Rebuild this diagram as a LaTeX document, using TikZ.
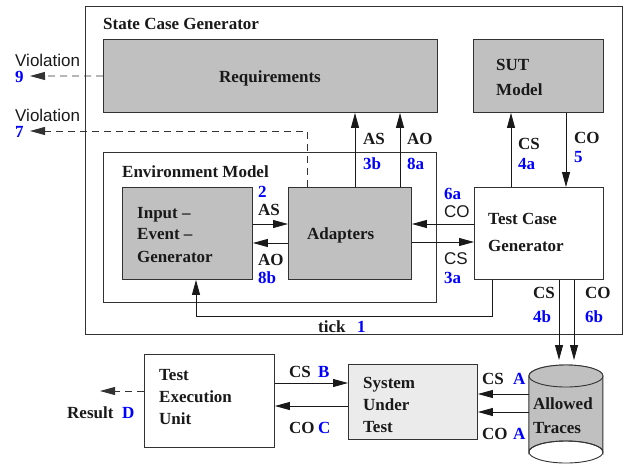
\documentclass[tikz,border=0pt]{standalone}
\usepackage{fontspec}
\setmainfont{Liberation Serif}
\newfontfamily\sansf{Liberation Sans}
\usetikzlibrary{arrows.meta}
\definecolor{boxgray}{RGB}{192,192,192}
\definecolor{lightbox}{RGB}{235,235,235}
\definecolor{edgec}{RGB}{50,50,50}
\definecolor{numblue}{RGB}{0,0,255}
\begin{document}
\begin{tikzpicture}[x=1pt,y=-1pt,
  box/.style={draw=edgec, line width=0.9pt, inner sep=0pt, anchor=north west},
  gbox/.style={box, fill=boxgray},
  lbl/.style={font=\bfseries\fontsize{17}{20}\selectfont, anchor=base west, inner sep=0pt, text=black!90},
  num/.style={lbl, text=numblue},
  slbl/.style={font=\sansf\fontsize{17}{20}\selectfont, anchor=base west, inner sep=0pt, text=black!90},
  arr/.style={draw=black!90, line width=0.9pt, -{Triangle[length=15pt,width=8pt]}},
  cylpart/.style={draw=edgec, line width=0.9pt, fill=boxgray},
  dline/.style={draw=black!80, line width=0.9pt, dash pattern=on 7pt off 5pt, -{Triangle[length=15pt,width=8pt]}}
]
\useasboundingbox (0,0) rectangle (628,463);

% boxes
\node[box, minimum width=537pt, minimum height=328pt] (scg) at (85,6) {};
\node[gbox, minimum width=334pt, minimum height=73pt] (req) at (103,39) {};
\node[gbox, minimum width=130pt, minimum height=73pt] (sutm) at (473,39) {};
\node[box, minimum width=333pt, minimum height=150pt] (env) at (103,152) {};
\node[gbox, minimum width=130pt, minimum height=92pt] (ieg) at (122,187) {};
\node[gbox, minimum width=123pt, minimum height=92pt] (adp) at (288,187) {};
\node[box, fill=white, minimum width=129pt, minimum height=92pt] (tcg) at (474,187) {};
\node[box, fill=lightbox, minimum width=129pt, minimum height=75pt] (sut) at (348,364) {};
\node[box, minimum width=130pt, minimum height=93pt] (teu) at (144,354) {};

% cylinder (Allowed Traces)
\node[inner sep=0pt, minimum width=74pt, minimum height=98pt, anchor=north] (cyl) at (566,364) {};
\path[cylpart] (cyl.north west) ++(0,12) coordinate (cylTL) -- ++(0,76)
  arc[start angle=180, end angle=0, x radius=37pt, y radius=11pt] -- ++(0,-76)
  arc[start angle=0, end angle=180, x radius=37pt, y radius=11pt] -- cycle;
\draw[draw=edgec, line width=0.9pt] ([yshift=-88pt]cyl.north) ellipse[x radius=37pt, y radius=11pt];
\path[cylpart] ([yshift=-12pt]cyl.north) ellipse[x radius=37pt, y radius=11pt];

% texts
\node[lbl] (tscg) at (103,29) {State Case Generator};
\node[lbl, anchor=base] (treq) at (270,82) {Requirements};
\node[lbl] (tsut1) at (496,70) {SUT};
\node[lbl] (tsut2) at (496,95) {Model};
\node[slbl] (v9a) at (15,66) {Violation};
\node[num] (v9b) at (15,82) {9};
\node[slbl] (v7a) at (15,121) {Violation};
\node[num] (v7b) at (15,137) {7};
\node[lbl] (tenv) at (122,177) {Environment Model};
\node[lbl] (tieg1) at (137,218) {Input --};
\node[lbl] (tieg2) at (137,239) {Event --};
\node[lbl] (tieg3) at (137,262) {Generator};
\node[num] (l2) at (258,197) {2};
\node[lbl] (lAS1) at (258,215) {AS};
\node[lbl] (lAO1) at (258,265) {AO};
\node[num] (l8b) at (258,283) {8b};
\node[lbl] (tadp) at (307,239) {Adapters};
\node[lbl] (lAS2) at (363,144) {AS};
\node[num] (l3b) at (363,169) {3b};
\node[lbl] (lAO2) at (407,144) {AO};
\node[num] (l8a) at (407,169) {8a};
\node[lbl] (lCS4) at (518,149) {CS};
\node[num] (l4a) at (518,169) {4a};
\node[lbl] (lCO5) at (574,143) {CO};
\node[num] (l5) at (574,162) {5};
\node[num] (l6a) at (444,199) {6a};
\node[slbl] (lCO6) at (444,217) {CO};
\node[slbl] (lCS3) at (444,264) {CS};
\node[num] (l3a) at (444,283) {3a};
\node[lbl] (ttcg1) at (488,224) {Test Case};
\node[lbl] (ttcg2) at (488,251) {Generator};
\node[lbl] (lCS4b) at (533,298) {CS};
\node[num] (l4b) at (533,322) {4b};
\node[lbl] (lCO6b) at (585,298) {CO};
\node[num] (l6b) at (585,322) {6b};
\node[lbl] (ltick) at (318,332) {tick};
\node[num] (l1) at (357,332) {1};
\node[lbl] (tteu1) at (159,380) {Test};
\node[lbl] (tteu2) at (159,402) {Execution};
\node[lbl] (tteu3) at (159,424) {Unit};
\node[lbl] (lCSB) at (289,377) {CS};
\node[num] (lB) at (318,377) {B};
\node[lbl] (lCOC) at (289,433) {CO};
\node[num] (lC) at (318,433) {C};
\node[lbl] (lres) at (67,418) {Result};
\node[num] (lD) at (122,418) {D};
\node[lbl] (tsut3) at (363,388) {System};
\node[lbl] (tsut4) at (363,410) {Under};
\node[lbl] (tsut5) at (363,432) {Test};
\node[lbl] (lCSA) at (482,384) {CS};
\node[num] (lA1) at (513,384) {A};
\node[lbl] (lCOA) at (482,439) {CO};
\node[num] (lA2) at (513,439) {A};
\node[lbl] (tcyl1) at (533,409) {Allowed};
\node[lbl] (tcyl2) at (533,433) {Traces};

% coordinates
\coordinate (v9end) at (30,76);
\coordinate (v7end) at (30,131);
\coordinate (resend) at (100,391);
\coordinate (a3b) at ([xshift=67pt]adp.north west);
\coordinate (a8a) at ([xshift=112pt]adp.north west);
\coordinate (a7) at ([xshift=19pt]adp.north west);
\coordinate (c4a) at ([xshift=37pt]tcg.north west);
\coordinate (c5) at ([xshift=92pt]tcg.north west);
\coordinate (iAS) at ([yshift=-37pt]ieg.north east);
\coordinate (iAO) at ([yshift=-56pt]ieg.north east);
\coordinate (tCO) at ([yshift=-37pt]tcg.north west);
\coordinate (tCS) at ([yshift=-55pt]tcg.north west);
\coordinate (tk1) at ([xshift=18pt]tcg.south west);
\coordinate (tk2) at ([xshift=74pt]ieg.south west);
\coordinate (tkl) at (0,316);
\coordinate (c4b) at ([xshift=85pt]tcg.south west);
\coordinate (c6b) at ([xshift=100pt]tcg.south west);
\coordinate (ctop) at ([yshift=4pt]cyl.north);
\coordinate (eCS) at ([yshift=-29pt]teu.north east);
\coordinate (eCO) at ([yshift=-52pt]teu.north east);
\coordinate (yCS) at (0,394);
\coordinate (yCO) at (0,412);
\coordinate (yres) at (0,391);

% connectors
\draw[dline] (req.west) -- (v9end);
\draw[dline] (a7) |- (v7end);
\draw[arr] (a3b) -- (a3b |- req.south);
\draw[arr] (a8a) -- (a8a |- req.south);
\draw[arr] (c4a) -- (c4a |- sutm.south);
\draw[arr] (c5 |- sutm.south) -- (c5);
\draw[arr] (iAS) -- (iAS -| adp.west);
\draw[arr] (iAO -| adp.west) -- (iAO);
\draw[arr] (tCO) -- (tCO -| adp.east);
\draw[arr] (tCS -| adp.east) -- (tCS);
\draw[arr] (tk1) |- (tkl -| tk2) -- (tk2);
\draw[arr] (c4b) -- (c4b |- ctop);
\draw[arr] (c6b) -- (c6b |- ctop);
\draw[arr] (eCS) -- (eCS -| sut.west);
\draw[arr] (eCO -| sut.west) -- (eCO);
\draw[arr] (yCS -| cyl.west) -- (yCS -| sut.east);
\draw[arr] (yCO -| cyl.west) -- (yCO -| sut.east);
\draw[dline] (yres -| teu.west) -- (resend);
\end{tikzpicture}
\end{document}
